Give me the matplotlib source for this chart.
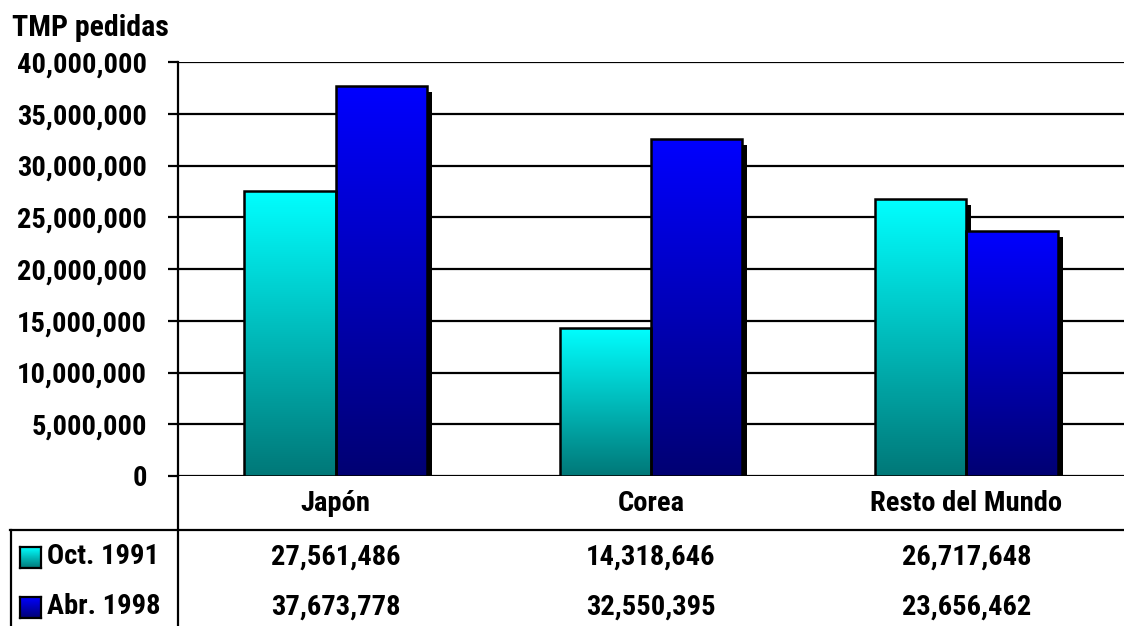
import numpy as np
import matplotlib
matplotlib.use("Agg")
import matplotlib.pyplot as plt
from matplotlib.transforms import offset_copy, blended_transform_factory
from matplotlib.patches import Rectangle
from matplotlib.lines import Line2D
from matplotlib.ticker import FuncFormatter, MultipleLocator

categories = ["Japón", "Corea", "Resto del Mundo"]
series_names = ["Oct. 1991", "Abr. 1998"]
oct_1991 = [27561486, 14318646, 26717648]
abr_1998 = [37673778, 32550395, 23656462]

# top / bottom colours of each series' vertical gradient
grad_top = [(0.0, 1.0, 1.0), (0.0, 0.0, 1.0)]
grad_bottom = [(0.0, 0.47, 0.47), (0.0, 0.0, 0.45)]

plt.rcParams["font.family"] = ["Roboto Condensed", "DejaVu Sans"]
plt.rcParams["font.weight"] = "bold"
FS = 20.5

W, H = 1124, 626
fig = plt.figure(figsize=(W / 100, H / 100), dpi=100)
fig.patch.set_facecolor("white")


def fx(px):
    return px / W


def fy(py):
    return 1 - py / H


ax_left, ax_right, ax_top, ax_zero = 178, 1124, 62, 476
ax = fig.add_axes([fx(ax_left), fy(ax_zero), fx(ax_right - ax_left),
                   (ax_zero - ax_top) / H])
ax.set_xlim(-0.5, 2.5)
ax.set_ylim(0, 40_000_000)

ax.yaxis.set_major_locator(MultipleLocator(5_000_000))
ax.yaxis.set_major_formatter(FuncFormatter(lambda v, _: f"{int(v):,}"))
ax.grid(axis="y", color="black", linewidth=1.6, zorder=0)
ax.set_axisbelow(True)
ax.tick_params(axis="y", length=7.5, width=1.6, direction="out",
               labelsize=FS, pad=15)
for lab in ax.get_yticklabels():
    lab.set_fontweight("bold")

ax.set_xticks(range(len(categories)))
ax.set_xticklabels(categories, fontsize=FS, fontweight="bold")
ax.tick_params(axis="x", length=0, pad=10)

for side in ["top", "right", "bottom"]:
    ax.spines[side].set_visible(False)
ax.spines["left"].set_linewidth(1.6)

width = 0.29
x = np.arange(len(categories))
offsets = [-width / 2, width / 2]
shadow_tr = offset_copy(ax.transData, fig=fig, x=5, y=-6, units="dots")

for s, vals in enumerate([oct_1991, abr_1998]):
    top = np.array(grad_top[s])
    bot = np.array(grad_bottom[s])
    t = np.linspace(0, 1, 256)[:, None]  # 0 at top, 1 at bottom
    img = top[None, :] * (1 - t) + bot[None, :] * t
    img = img[:, None, :]
    for i, v in enumerate(vals):
        x0 = x[i] + offsets[s] - width / 2
        shadow = Rectangle((x0, 0), width, v, facecolor="black",
                           edgecolor="none", transform=shadow_tr, zorder=2)
        ax.add_patch(shadow)
        bar = ax.bar(x0, v, width=width, align="edge", facecolor="none",
                     edgecolor="black", linewidth=1.8, zorder=4)[0]
        im = ax.imshow(img, extent=(x0, x0 + width, 0, v), aspect="auto",
                       origin="upper", zorder=3, interpolation="bilinear")
        im.set_clip_path(bar)

ax.set_xlim(-0.5, 2.5)
ax.set_ylim(0, 40_000_000)

# y-axis title
fig.text(fx(12), fy(28), "TMP pedidas", fontsize=21.5, fontweight="bold",
         ha="left", va="center")

# data table under the plot
lw = 1.6
fig.add_artist(Line2D([fx(ax_left), fx(ax_left)], [fy(ax_zero), 0],
                      color="black", linewidth=lw))
fig.add_artist(Line2D([fx(10), 1], [fy(530), fy(530)], color="black",
                      linewidth=lw))
fig.add_artist(Line2D([fx(11), fx(11)], [fy(530), 0], color="black",
                      linewidth=lw))

row_y = [557, 607]
tr = blended_transform_factory(ax.transData, fig.transFigure)
for s, vals in enumerate([oct_1991, abr_1998]):
    yy = fy(row_y[s])
    # legend key with the series gradient
    key = fig.add_axes([fx(20), fy(row_y[s] + 11), fx(21), 21 / H])
    t = np.linspace(0, 1, 64)[:, None]
    kimg = (np.array(grad_top[s])[None, :] * (1 - t)
            + np.array(grad_bottom[s])[None, :] * t)[:, None, :]
    key.imshow(kimg, aspect="auto", extent=(0, 1, 0, 1))
    key.set_xticks([])
    key.set_yticks([])
    for sp in key.spines.values():
        sp.set_linewidth(1.6)
    fig.text(fx(47), yy, series_names[s], fontsize=FS, fontweight="bold",
             ha="left", va="center")
    for i, v in enumerate(vals):
        ax.text(x[i], yy, f"{v:,}", transform=tr, fontsize=FS,
                fontweight="bold", ha="center", va="center", clip_on=False)

fig.savefig("out.png", dpi=100)
